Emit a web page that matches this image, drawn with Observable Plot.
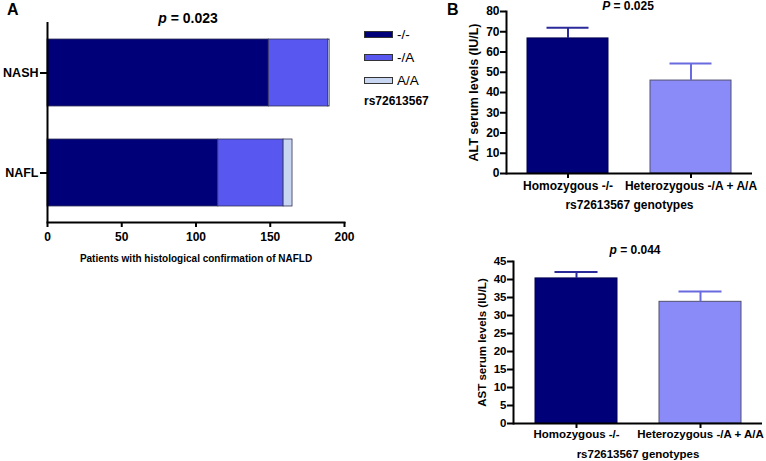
<!DOCTYPE html>
<html>
<head>
<meta charset="utf-8">
<script src="https://cdn.jsdelivr.net/npm/d3@7"></script>
<script src="https://cdn.jsdelivr.net/npm/@observablehq/plot@0.6"></script>
<style>
  body { margin: 0; background: #fff; }
  #wrap { position: relative; width: 766px; height: 461px; overflow: hidden; font-family: "Liberation Sans", Arial, sans-serif; color: #000; }
  .lbl { position: absolute; font-weight: bold; white-space: nowrap; line-height: 1; }
  .sw { position: absolute; width: 29px; height: 7px; box-sizing: border-box; border: 1px solid #333; }
  .lt { position: absolute; font-size: 13.5px; white-space: nowrap; line-height: 1; }
</style>
</head>
<body>
<div id="wrap"></div>
<script>
// ---------- Data ----------
const groups = ["NASH", "NAFL"];
const genotypes = ["-/-", "-/A", "A/A"];
const nashCounts = [149, 40, 1];
const naflCounts = [115, 44, 6];
const countTicks = [0, 50, 100, 150, 200];

const genotypeGroups = ["Homozygous -/-", "Heterozygous -/A + A/A"];
const altMean = [66.7, 45.9];
const altSem = [5.3, 8.4];
const altTicks = [0, 10, 20, 30, 40, 50, 60, 70, 80];
const astMean = [40.3, 33.8];
const astSem = [1.8, 2.9];
const astTicks = [0, 5, 10, 15, 20, 25, 30, 35, 40, 45];

const pA = "0.023", pB = "0.025", pC = "0.044";

// ---------- Styles ----------
const genoColors = ["#000078", "#5858F0", "#C8D6F2"];
const barFill = ["#000078", "#8A8AF8"];
const barStroke = ["#000050", "#505070"];
const errColor = ["#2A2A9A", "#6A6AE0"];
const FONT = "Liberation Sans, Arial, sans-serif";

const wrap = document.getElementById("wrap");
function place(el, left, top) {
  el.style.position = "absolute"; el.style.left = left + "px"; el.style.top = top + "px";
  wrap.appendChild(el);
}
function label(html, x, y, size, anchor) {
  const d = document.createElement("div");
  d.className = "lbl"; d.innerHTML = html; d.style.fontSize = size + "px";
  d.style.left = x + "px"; d.style.top = y + "px";
  d.style.transform = anchor === "middle" ? "translate(-50%,-50%)" : "translate(0,-50%)";
  wrap.appendChild(d);
}

// ---------- Panel A ----------
const rowsA = [];
groups.forEach((g, gi) => {
  const counts = gi === 0 ? nashCounts : naflCounts;
  genotypes.forEach((t, ti) => rowsA.push({group: g, genotype: t, count: counts[ti]}));
});
const plotA = Plot.plot({
  width: 430, height: 270,
  marginLeft: 47, marginRight: 86, marginTop: 22, marginBottom: 48,
  style: {fontFamily: FONT, fontWeight: "bold", color: "#000", background: "transparent", overflow: "visible"},
  x: {domain: [0, 200]},
  y: {domain: groups, paddingInner: 0.33, paddingOuter: 0.165},
  color: {domain: genotypes, range: genoColors},
  marks: [
    Plot.barX(rowsA, {x: "count", y: "group", fill: "genotype", stroke: "#333355", strokeWidth: 0.8}),
    Plot.axisX({ticks: countTicks, tickSize: 5, tickPadding: 5, strokeWidth: 2, fontSize: 12, label: null}),
    Plot.axisY({tickSize: 7, tickPadding: 2, strokeWidth: 2, fontSize: 12.5, label: null}),
    Plot.ruleX([0], {strokeWidth: 2}),
    Plot.frame({anchor: "bottom", strokeWidth: 2}),
    Plot.text(["Patients with histological confirmation of NAFLD"], {frameAnchor: "bottom", textAnchor: "middle", dy: 39, fontSize: 10, fontWeight: "bold"})
  ]
});
place(plotA, 0, 0);

label("A", 7, 10, 16);
label("<i>p</i> = " + pA, 188, 18, 14, "middle");
genotypes.forEach((t, i) => {
  const s = document.createElement("div");
  s.className = "sw"; s.style.background = genoColors[i];
  s.style.left = "364px"; s.style.top = (31 + i * 23) + "px";
  wrap.appendChild(s);
  const tx = document.createElement("div");
  tx.className = "lt"; tx.textContent = t;
  tx.style.left = "397px"; tx.style.top = (35 + i * 23) + "px"; tx.style.transform = "translate(0,-50%)";
  wrap.appendChild(tx);
});
label("rs72613567", 364, 101, 12);

// ---------- Panels B & C ----------
function barPanel(means, sems, ticks, yMax, opts) {
  const rows = genotypeGroups.map((g, i) => ({group: g, mean: means[i], sem: sems[i], i}));
  const marks = [];
  rows.forEach((r, i) => {
    marks.push(Plot.barY([r], {x: "group", y: "mean", fill: barFill[i], stroke: barStroke[i], strokeWidth: 1}));
    marks.push(Plot.ruleX([r], {x: "group", y1: "mean", y2: d => d.mean + d.sem, stroke: errColor[i], strokeWidth: 2}));
    marks.push(Plot.tickY([r], {x: "group", y: d => d.mean + d.sem, stroke: errColor[i], strokeWidth: 2, insetLeft: 19.5, insetRight: 19.5}));
  });
  marks.push(
    Plot.axisY({ticks, tickSize: 6, tickPadding: 1, strokeWidth: 2, fontSize: opts.fs, label: null}),
    Plot.axisX({tickSize: 5, tickPadding: opts.xtp, strokeWidth: 2, fontSize: opts.fs, label: null}),
    Plot.frame({anchor: "left", strokeWidth: 2}),
    Plot.ruleY([0], {strokeWidth: 2}),
    Plot.text([opts.xLabel], {frameAnchor: "bottom", textAnchor: "middle", dy: opts.xLabelDy, fontSize: opts.fs, fontWeight: "bold"}),
    Plot.text([opts.yLabel], {frameAnchor: "left", textAnchor: "middle", lineAnchor: "middle", dx: opts.yLabelDx, rotate: -90, fontSize: opts.yfs, fontWeight: "bold"})
  );
  return Plot.plot({
    width: 336, height: opts.height,
    marginLeft: opts.ml, marginRight: opts.mr, marginTop: opts.mt, marginBottom: opts.mb,
    style: {fontFamily: FONT, fontWeight: "bold", color: "#000", background: "transparent", overflow: "visible"},
    x: {domain: genotypeGroups, paddingInner: 0.34, paddingOuter: 0.17},
    y: {domain: [0, yMax]},
    marks
  });
}

const plotB = barPanel(altMean, altSem, altTicks, 80, {
  height: 230, ml: 76, mr: 14, mt: 11, mb: 57, fs: 12, yfs: 12.5, xtp: 3,
  xLabel: "rs72613567 genotypes", xLabelDy: 35,
  yLabel: "ALT serum levels (IU/L)", yLabelDx: -33
});
place(plotB, 430, 0);
label("B", 447, 10, 16);
label("<i>P</i> = " + pB, 628, 6, 12, "middle");

const plotC = barPanel(astMean, astSem, astTicks, 45, {
  height: 231, ml: 83, mr: 4, mt: 31, mb: 38, fs: 11.5, yfs: 11.5, xtp: 1,
  xLabel: "rs72613567 genotypes", xLabelDy: 34,
  yLabel: "AST serum levels (IU/L)", yLabelDx: -31
});
place(plotC, 430, 230);
label("<i>p</i> = " + pC, 635, 250, 12, "middle");
</script>
</body>
</html>
